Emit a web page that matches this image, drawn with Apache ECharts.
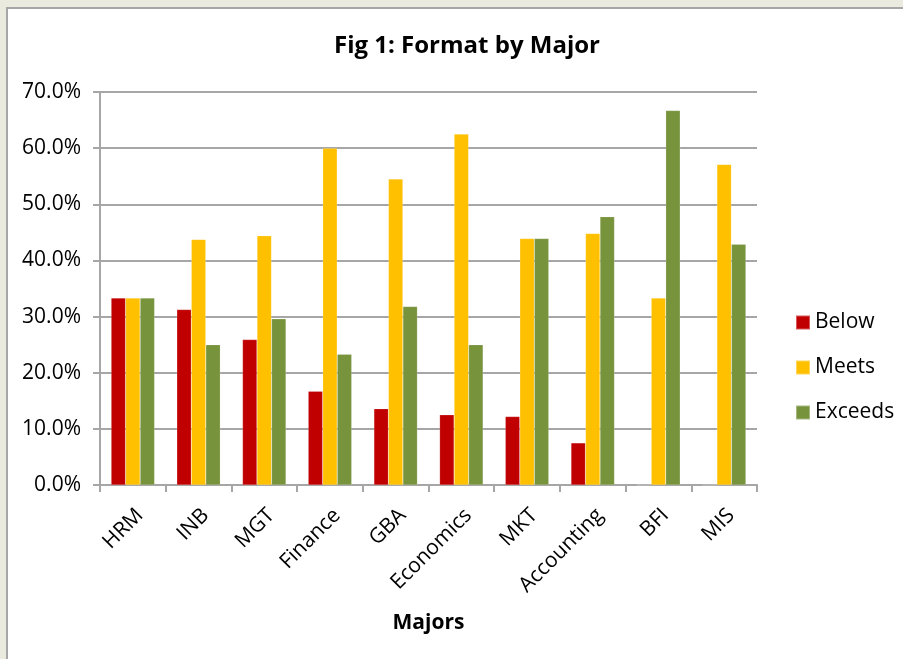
<!DOCTYPE html>
<html>
<head>
<meta charset="utf-8">
<script src="https://cdn.jsdelivr.net/npm/echarts@6/dist/echarts.min.js"></script>
<style>
  html, body {
    margin: 0;
    padding: 0;
    background: #ebeadf;
  }
  .frame {
    position: absolute;
    left: 6px;
    top: 7px;
    width: 903px;
    height: 659px;
    background: #ffffff;
    border-left: 2px solid #a6a6a6;
    border-top: 2px solid #a6a6a6;
  }
  .chart_box {
    position: absolute;
    left: 0;
    top: 0;
    width: 903px;
    height: 659px;
  }
</style>
</head>
<body>
<div class="frame"></div>
<div class="chart_box" id="chart"></div>
<script>
// majors on the x axis
var majors = ["HRM", "INB", "MGT", "Finance", "GBA", "Economics", "MKT", "Accounting", "BFI", "MIS"];
// share of students per rating (%)
var below = [33.3, 31.25, 25.9, 16.7, 13.6, 12.5, 12.2, 7.5, 0, 0];
var meets = [33.3, 43.75, 44.4, 60.0, 54.5, 62.5, 43.9, 44.8, 33.3, 57.1];
var exceeds = [33.3, 25.0, 29.6, 23.3, 31.8, 25.0, 43.9, 47.8, 66.7, 42.9];
var seriesNames = ["Below", "Meets", "Exceeds"];
var colors = ["#c00000", "#ffc000", "#77933c"];

var fontFamily = "'Open Sans', Lato, sans-serif";

var charts = echarts.init(document.getElementById("chart"));

function barSeries(name, data) {
  return {
    type: "bar",
    name: name,
    barWidth: 14.5,
    barGap: "0%",
    data: data,
    itemStyle: {
      borderColor: "rgba(255,255,255,0.35)",
      borderWidth: 0.5,
    },
  };
}

var option = {
  animation: false,
  color: colors,
  textStyle: {
    fontFamily: fontFamily,
  },
  title: {
    text: "Fig 1: Format by Major",
    left: 462,
    top: 29,
    textAlign: "center",
    textStyle: {
      fontFamily: fontFamily,
      fontSize: 24,
      fontWeight: "bold",
      color: "#000000",
    },
  },
  legend: {
    orient: "vertical",
    left: 795,
    top: 312,
    padding: 0,
    itemWidth: 14,
    itemHeight: 14,
    itemGap: 24,
    icon: "rect",
    data: seriesNames,
    textStyle: {
      fontFamily: fontFamily,
      fontSize: 21,
      color: "#000000",
    },
  },
  grid: {
    left: 100,
    right: 146,
    top: 92,
    bottom: 174,
    containLabel: false,
  },
  xAxis: {
    type: "category",
    data: majors,
    name: "Majors",
    nameLocation: "middle",
    nameGap: 128,
    nameTextStyle: {
      fontFamily: fontFamily,
      fontSize: 21,
      fontWeight: "bold",
      color: "#000000",
    },
    axisLine: {
      lineStyle: {
        color: "#a6a6a6",
        width: 2,
      },
    },
    axisTick: {
      show: true,
      length: 7,
      lineStyle: {
        color: "#a6a6a6",
        width: 2,
      },
    },
    axisLabel: {
      interval: 0,
      rotate: 45,
      margin: 20,
      verticalAlign: "top",
      lineHeight: 20,
      fontSize: 21,
      color: "#000000",
    },
  },
  yAxis: {
    type: "value",
    min: 0,
    max: 70,
    interval: 10,
    splitLine: {
      show: true,
      lineStyle: {
        color: "#a6a6a6",
        width: 2,
      },
    },
    axisLine: {
      show: true,
      lineStyle: {
        color: "#a6a6a6",
        width: 2,
      },
    },
    axisTick: {
      show: true,
      length: 7,
      lineStyle: {
        color: "#a6a6a6",
        width: 2,
      },
    },
    axisLabel: {
      margin: 19,
      fontSize: 21,
      color: "#000000",
      formatter: function (v) {
        return v.toFixed(1) + "%";
      },
    },
  },
  series: [
    barSeries(seriesNames[0], below),
    barSeries(seriesNames[1], meets),
    barSeries(seriesNames[2], exceeds),
  ],
};

charts.setOption(option);
</script>
</body>
</html>
